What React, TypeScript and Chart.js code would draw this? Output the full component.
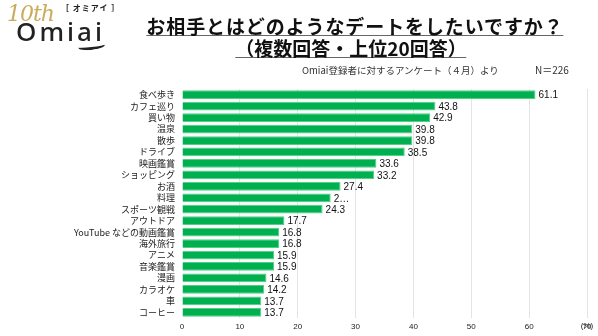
import React, { useEffect, useRef } from "react";
import { Chart, registerables } from "chart.js";

Chart.register(...registerables);

const categories = [
  "食べ歩き", "カフェ巡り", "買い物", "温泉", "散歩", "ドライブ", "映画鑑賞", "ショッピング",
  "お酒", "料理", "スポーツ観戦", "アウトドア", "YouTube などの動画鑑賞", "海外旅行", "アニメ",
  "音楽鑑賞", "漫画", "カラオケ", "車", "コーヒー",
];
const values = [61.1, 43.8, 42.9, 39.8, 39.8, 38.5, 33.6, 33.2, 27.4, 25.7, 24.3, 17.7, 16.8, 16.8, 15.9, 15.9, 14.6, 14.2, 13.7, 13.7];
const valueLabels = ["61.1", "43.8", "42.9", "39.8", "39.8", "38.5", "33.6", "33.2", "27.4", "2…", "24.3", "17.7", "16.8", "16.8", "15.9", "15.9", "14.6", "14.2", "13.7", "13.7"];
const xTicks = [0, 10, 20, 30, 40, 50, 60, 70];
const titleLine1 = "お相手とはどのようなデートをしたいですか？";
const titleLine2 = "（複数回答・上位20回答）";
const sourceText = "Omiai登録者に対するアンケート（４月）より";
const nText = "N＝226";
const unitText = "(%)";

const JP = '"Noto Sans CJK JP", "Noto Sans", sans-serif';

const labelPlugin = {
  id: "valueLabels",
  afterDatasetsDraw(chart: any) {
    const ctx = chart.ctx;
    const meta = chart.getDatasetMeta(0);
    ctx.save();
    ctx.font = '10px "Liberation Sans", Arial, sans-serif';
    ctx.fillStyle = "#111";
    ctx.textBaseline = "middle";
    ctx.textAlign = "left";
    meta.data.forEach((bar: any, i: number) => {
      ctx.fillText(valueLabels[i], bar.x + 3, bar.y + 1);
    });
    ctx.restore();
  },
  afterDraw(chart: any) {
    const ctx = chart.ctx;
    const xs = chart.scales.x;
    ctx.save();
    ctx.font = '8px "Liberation Sans", Arial, sans-serif';
    ctx.fillStyle = "#222";
    ctx.textAlign = "center";
    ctx.textBaseline = "middle";
    ctx.fillText(unitText, xs.getPixelForValue(70), chart.chartArea.bottom + 8);
    ctx.restore();
  },
};

export default function App() {
  const ref = useRef<HTMLCanvasElement | null>(null);
  useEffect(() => {
    document.body.style.margin = "0";
    if (!ref.current) return;
    const chart = new Chart(ref.current, {
      type: "bar",
      data: {
        labels: categories,
        datasets: [
          {
            data: values,
            backgroundColor: "#00b050",
            borderColor: "#4fd083",
            borderWidth: 1,
            categoryPercentage: 1,
            barPercentage: 0.76,
          },
        ],
      },
      options: {
        indexAxis: "y",
        responsive: false,
        animation: false,
        devicePixelRatio: 1,
        layout: { padding: { top: 89, right: 11, left: 0, bottom: 0 } },
        plugins: { legend: { display: false }, tooltip: { enabled: false }, title: { display: false } },
        scales: {
          x: {
            min: 0,
            max: 70,
            afterFit: (s: any) => { s.height = 18; },
            afterBuildTicks: (s: any) => { s.ticks = xTicks.map((v) => ({ value: v })); },
            ticks: {
              font: { size: 8, family: '"Liberation Sans", Arial, sans-serif' },
              color: "#222",
              padding: 4,
              callback: (v: any) => String(v),
            },
            grid: {
              drawTicks: false,
              color: (c: any) => (c.tick && c.tick.value === 0 ? "rgba(0,0,0,0)" : "#e4e4e4"),
            },
            border: { display: false },
          },
          y: {
            afterFit: (s: any) => { s.width = 182; },
            ticks: { font: { size: 9, family: JP }, color: "#1a1a1a", padding: 7, autoSkip: false },
            grid: { display: false, drawTicks: false },
            border: { display: false },
          },
        },
      },
      plugins: [labelPlugin],
    } as any);
    return () => chart.destroy();
  }, []);

  return (
    <div style={{ position: "fixed", left: 0, top: 0, width: 598, height: 336, background: "#fff", overflow: "hidden" }}>
      <canvas ref={ref} width={598} height={336} style={{ position: "absolute", left: 0, top: 0 }} />
      {/* Logo */}
      <div style={{ position: "absolute", left: 7, top: 3, font: 'italic 22px "DejaVu Serif", serif', color: "#c9ad5b", lineHeight: "22px", letterSpacing: -1 }}>10th</div>
      <div style={{ position: "absolute", left: 61, top: 3, font: `bold 8px ${JP}`, color: "#222", lineHeight: "9px", letterSpacing: 1, whiteSpace: "nowrap" }}>［ オミアイ ］</div>
      <div style={{ position: "absolute", left: 16, top: 18, font: '500 26px "Noto Sans", sans-serif', color: "#222", lineHeight: "26px", letterSpacing: 3 }}>Omiai</div>
      <div style={{ position: "absolute", left: 78, top: 42, width: 27, height: 5, borderBottom: "3px solid #222", borderRadius: "0 0 50% 50%", transform: "rotate(-6deg)" }} />
      {/* Title */}
      <div style={{ position: "absolute", left: 355, top: 16, transform: "translateX(-50%)", font: `bold 19px ${JP}`, color: "#111", lineHeight: "19px", letterSpacing: 0.9, whiteSpace: "nowrap", borderBottom: "1px solid #666" }}>{titleLine1}</div>
      <div style={{ position: "absolute", left: 351, top: 38, transform: "translateX(-50%)", font: `bold 19px ${JP}`, color: "#111", lineHeight: "19px", whiteSpace: "nowrap", borderBottom: "1px solid #666" }}>{titleLine2}</div>
      <div style={{ position: "absolute", left: 302, top: 64, font: `9.5px ${JP}`, color: "#333", lineHeight: "12px", whiteSpace: "nowrap" }}>{sourceText}</div>
      <div style={{ position: "absolute", left: 535, top: 64, font: `10px ${JP}`, color: "#333", lineHeight: "12px", whiteSpace: "nowrap" }}>{nText}</div>
    </div>
  );
}
